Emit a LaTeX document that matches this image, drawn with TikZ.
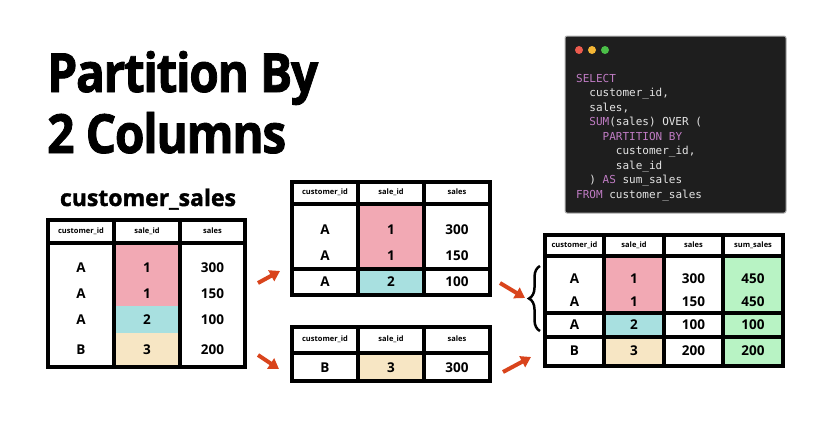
\documentclass[tikz,border=0pt]{standalone}
\usepackage{fontspec}
\setmainfont{Open Sans}
\newfontfamily\heavyfont{Open Sans}[BoldFeatures={FakeBold=1.6}]
\newfontfamily\codefont{DejaVu Sans Mono}
\usetikzlibrary{arrows.meta,decorations.pathreplacing}
\definecolor{cellpink}{HTML}{F2A9B4}
\definecolor{cellcyan}{HTML}{A8E0E0}
\definecolor{celltan}{HTML}{F7E6C4}
\definecolor{cellgreen}{HTML}{B8F3C4}
\definecolor{arrowred}{HTML}{D9441C}
\definecolor{codebg}{HTML}{1E1E1E}
\definecolor{codekw}{HTML}{C07CC4}
\definecolor{codetxt}{HTML}{E4E4E4}
\definecolor{dotred}{HTML}{EC5B4E}
\definecolor{dotyellow}{HTML}{F4B635}
\definecolor{dotgreen}{HTML}{4BBF48}
\newcommand{\sqlkw}[1]{\textcolor{codekw}{#1}}
\tikzset{
  tabline/.style  = { line width=4pt, black },
  hcell/.style    = { inner sep=0pt, font=\fontsize{7.5}{9}\selectfont\bfseries },
  vcell/.style    = { inner sep=0pt, font=\fontsize{13.5}{16}\selectfont\bfseries },
  push/.style     = { line width=4pt, arrowred, -{Triangle[length=10pt,width=12pt]} },
  headline/.style = { anchor=base west, inner sep=0pt, xscale=0.89, transform shape,
                      font=\heavyfont\bfseries\fontsize{54}{60}\selectfont\addfontfeatures{LetterSpace=-3} },
  codeline/.style = { anchor=base west, inner sep=0pt, text=codetxt, font=\codefont\fontsize{11}{13}\selectfont },
  mybrace/.style={
    decorate,
    decoration={brace,amplitude=#1},
    line width=2.5pt
  }
}

\begin{document}
\begin{tikzpicture}[x=1pt,y=-1pt]
  \fill[white] (0,0) rectangle (826,445);
  \useasboundingbox (0,0) rectangle (826,445);
  % Draw title
  \node[headline] (title1) at (47,92) {Partition By};
  \node[headline] (title2) at (47,153) {2 Columns};
  \node[inner sep=0pt, anchor=base, font=\heavyfont\bfseries\fontsize{23}{25}\selectfont] (tname) at (148,206) {customer\_sales};
  % Draw first table
  \fill[cellpink] (114,243) rectangle (180,306);
  \fill[cellcyan] (114,306) rectangle (180,333);
  \fill[celltan]  (114,333) rectangle (180,367);
  \draw[tabline] (48,220) rectangle (245,367);
  \draw[tabline] (48,243) -- (245,243) (114,220) -- (114,367) (180,220) -- (180,367);
  \node[hcell] (t1cust) at (81,231)    {customer\_id};
  \node[hcell] (t1sale) at (147,231)   {sale\_id};
  \node[hcell] (t1sales) at (212.5,231) {sales};
  \node[vcell] (t1a1) at (81,268) {A};  \node[vcell] (t1b1) at (147,268) {1};  \node[vcell] (t1c1) at (212.5,268) {300};
  \node[vcell] (t1a2) at (81,294) {A};  \node[vcell] (t1b2) at (147,294) {1};  \node[vcell] (t1c2) at (212.5,294) {150};
  \node[vcell] (t1a3) at (81,320) {A};  \node[vcell] (t1b3) at (147,320) {2};  \node[vcell] (t1c3) at (212.5,320) {100};
  \node[vcell] (t1a4) at (81,350) {B};  \node[vcell] (t1b4) at (147,350) {3};  \node[vcell] (t1c4) at (212.5,350) {200};
  % Draw partition A tables
  \fill[cellpink] (358,204) rectangle (424,269);
  \fill[cellcyan] (358,269) rectangle (424,295);
  \draw[tabline] (292,182) rectangle (490,295);
  \draw[tabline] (292,204) -- (490,204) (292,269) -- (490,269) (358,182) -- (358,295) (424,182) -- (424,295);
  \node[hcell] (t2cust) at (325,192)  {customer\_id};
  \node[hcell] (t2sale) at (391,192)  {sale\_id};
  \node[hcell] (t2sales) at (457,192) {sales};
  \node[vcell] (t2a1) at (325,230) {A};  \node[vcell] (t2b1) at (391,230) {1};  \node[vcell] (t2c1) at (457,230) {300};
  \node[vcell] (t2a2) at (325,256) {A};  \node[vcell] (t2b2) at (391,256) {1};  \node[vcell] (t2c2) at (457,256) {150};
  \node[vcell] (t2a3) at (325,282) {A};  \node[vcell] (t2b3) at (391,282) {2};  \node[vcell] (t2c3) at (457,282) {100};
  % Draw partition B table
  \fill[celltan] (358,353) rectangle (424,381);
  \draw[tabline] (292,327) rectangle (490,381);
  \draw[tabline] (292,353) -- (490,353) (358,327) -- (358,381) (424,327) -- (424,381);
  \node[hcell] (t3cust) at (325,339)  {customer\_id};
  \node[hcell] (t3sale) at (391,339)  {sale\_id};
  \node[hcell] (t3sales) at (457,339) {sales};
  \node[vcell] (t3a1) at (325,368) {B};  \node[vcell] (t3b1) at (391,368) {3};  \node[vcell] (t3c1) at (457,368) {300};
  % Draw result table
  \fill[cellpink]  (604,256) rectangle (664,313);
  \fill[cellcyan]  (604,313) rectangle (664,337);
  \fill[celltan]   (604,337) rectangle (664,366);
  \fill[cellgreen] (723,256) rectangle (783,366);
  \draw[tabline] (545,235) rectangle (783,366);
  \draw[tabline] (545,256) -- (783,256) (545,313) -- (783,313) (545,337) -- (783,337);
  \draw[tabline] (604,235) -- (604,366) (664,235) -- (664,366) (723,235) -- (723,366);
  \node[hcell] (t4cust) at (574.5,245) {customer\_id};
  \node[hcell] (t4sale) at (634,245)   {sale\_id};
  \node[hcell] (t4sales) at (693.5,245) {sales};
  \node[hcell] (t4sum) at (753,245)    {sum\_sales};
  \node[vcell] (t4a1) at (574.5,279) {A};  \node[vcell] (t4b1) at (634,279) {1};  \node[vcell] (t4c1) at (693.5,279) {300};  \node[vcell] (t4d1) at (753,279) {450};
  \node[vcell] (t4a2) at (574.5,302) {A};  \node[vcell] (t4b2) at (634,302) {1};  \node[vcell] (t4c2) at (693.5,302) {150};  \node[vcell] (t4d2) at (753,302) {450};
  \node[vcell] (t4a3) at (574.5,325) {A};  \node[vcell] (t4b3) at (634,325) {2};  \node[vcell] (t4c3) at (693.5,325) {100};  \node[vcell] (t4d3) at (753,325) {100};
  \node[vcell] (t4a4) at (574.5,351) {B};  \node[vcell] (t4b4) at (634,351) {3};  \node[vcell] (t4c4) at (693.5,351) {200};  \node[vcell] (t4d4) at (753,351) {200};
  % Draw arrows and brace
  \coordinate (a1s) at (258,283);  \coordinate (a1e) at (280,271);
  \coordinate (a2s) at (258,355);  \coordinate (a2e) at (279,369);
  \coordinate (a3s) at (500,283);  \coordinate (a3e) at (525,298);
  \coordinate (a4s) at (503,372);  \coordinate (a4e) at (531,357);
  \draw[push] (a1s) -- (a1e);
  \draw[push] (a2s) -- (a2e);
  \draw[push] (a3s) -- (a3e);
  \draw[push] (a4s) -- (a4e);
  \coordinate (br1) at (540,331);  \coordinate (br2) at (540,266);
  \draw[mybrace=11pt] (br1) -- (br2);
  % Draw code window
  \draw[fill=codebg, draw=gray!60, rounded corners=2pt, line width=1pt] (565,36) rectangle (786,213);
  \fill[dotred]    (579,50) circle (4pt);
  \fill[dotyellow] (592,50) circle (4pt);
  \fill[dotgreen]  (605,50) circle (4pt);
  \node[codeline] (q1) at (576,82)    {\sqlkw{SELECT}};
  \node[codeline] (q2) at (589.2,96.5) {customer\_id,};
  \node[codeline] (q3) at (589.2,111)  {sales,};
  \node[codeline] (q4) at (589.2,125.5) {\sqlkw{SUM}(sales) OVER (};
  \node[codeline] (q5) at (602.5,140)  {\sqlkw{PARTITION BY}};
  \node[codeline] (q6) at (615.7,154.5) {customer\_id,};
  \node[codeline] (q7) at (615.7,169)  {sale\_id};
  \node[codeline] (q8) at (589.2,183.5) {) \sqlkw{AS} sum\_sales};
  \node[codeline] (q9) at (576,198)    {\sqlkw{FROM} customer\_sales};
\end{tikzpicture}
\end{document}
